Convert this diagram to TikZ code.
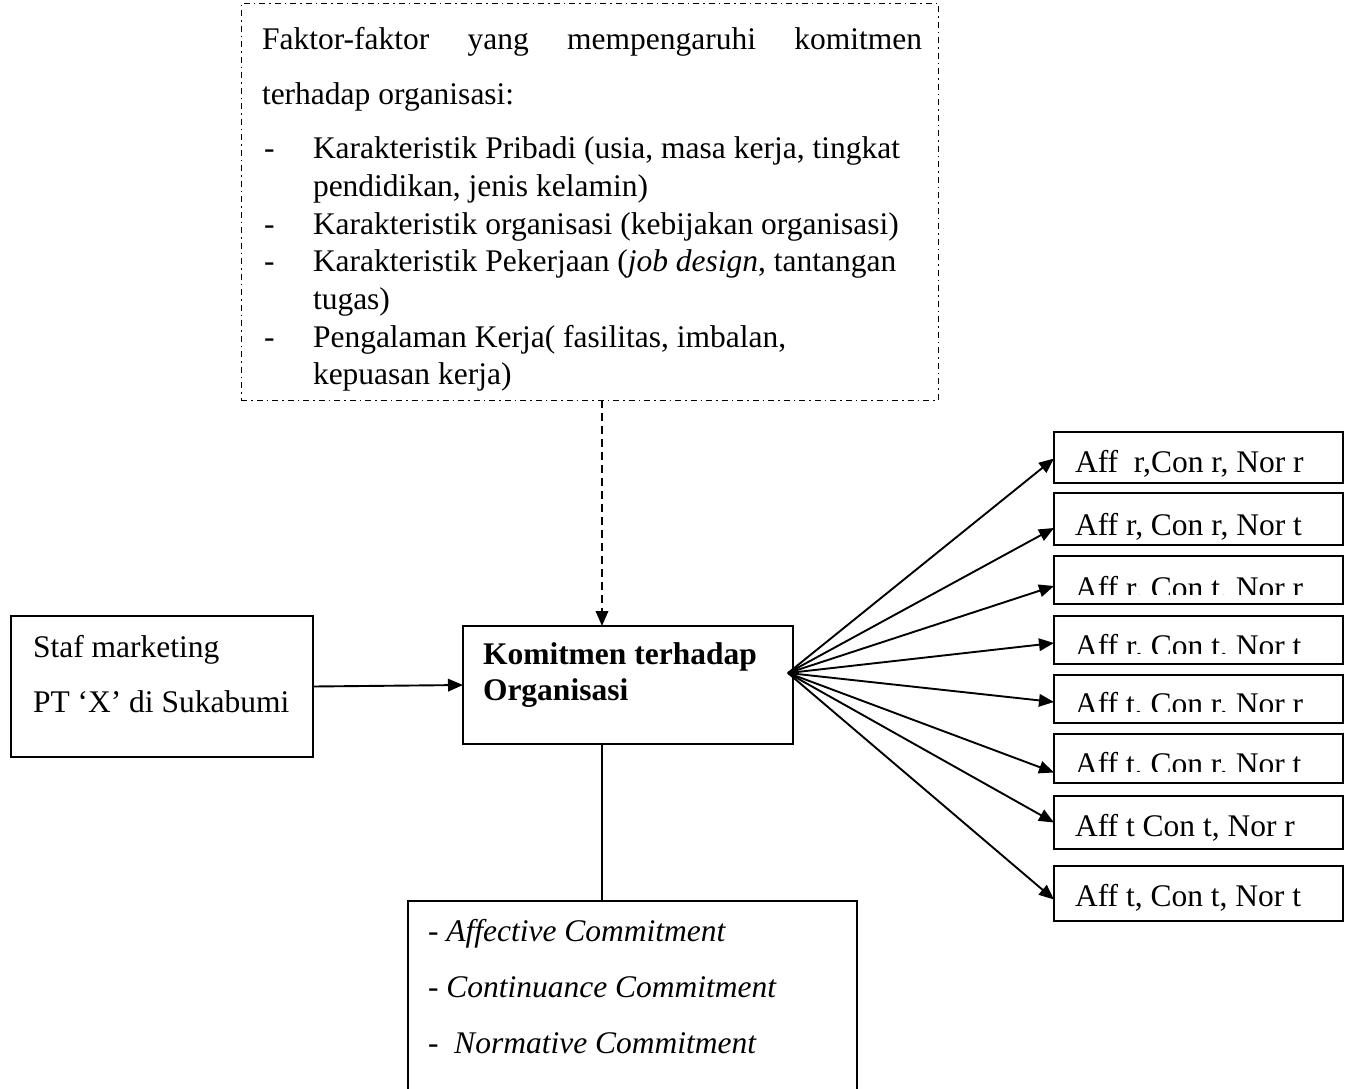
\documentclass[tikz,border=0pt]{standalone}
\usepackage{fontspec}
\setmainfont{Liberation Serif}
\usetikzlibrary{arrows.meta,calc}
\begin{document}
\begin{tikzpicture}[x=1pt,y=-1pt,
  every node/.style={font=\fontsize{31.5}{38}\selectfont, inner sep=0pt, outer sep=0pt},
  box/.style={draw, line width=1.8pt, anchor=north west},
  rbox/.style={box, line width=2pt, minimum width=289pt},
  txt/.style={anchor=base west},
  arr/.style={line width=1.9pt, -{Triangle[length=15pt,width=12.5pt]}},
  dashdot/.style={draw, line width=1pt, dash pattern=on 6pt off 4pt on 1.5pt off 4pt, anchor=north west}]
\useasboundingbox (0,0) rectangle (1350,1088);

% top factor box
\node[dashdot, minimum width=697pt, minimum height=397pt] (top) at (241,3) {};
\node[txt] (f1) at (262,49) {\hbox to 660pt{Faktor-faktor\hfill yang\hfill mempengaruhi\hfill komitmen}};
\node[txt] (f2) at (262,104) {terhadap organisasi:};
\node[txt] (d1) at (264,158) {-};
\node[txt] (f3) at (313,158) {Karakteristik Pribadi (usia, masa kerja, tingkat};
\node[txt] (f4) at (313,196) {pendidikan, jenis kelamin)};
\node[txt] (d2) at (264,234) {-};
\node[txt] (f5) at (313,234) {Karakteristik organisasi (kebijakan organisasi)};
\node[txt] (d3) at (264,271) {-};
\node[txt] (f6) at (313,271) {Karakteristik Pekerjaan (\textit{job design}, tantangan};
\node[txt] (f7) at (313,309) {tugas)};
\node[txt] (d4) at (264,347) {-};
\node[txt] (f8) at (313,347) {Pengalaman Kerja( fasilitas, imbalan,};
\node[txt] (f9) at (313,384) {kepuasan kerja)};

% left box
\node[box, minimum width=302pt, minimum height=141pt] (staf) at (11,616) {};
\node[txt] (s1) at (33,657) {Staf marketing};
\node[txt] (s2) at (33,712) {PT ‘X’ di Sukabumi};

% central box
\node[box, minimum width=330pt, minimum height=118pt] (kom) at (463,626) {};
\node[txt] (k1) at (483,664) {\bfseries Komitmen terhadap};
\node[txt] (k2) at (483,700) {\bfseries Organisasi};

% bottom box
\node[box, minimum width=449pt, minimum height=200pt] (bot) at (408,901) {};
\node[txt] (b1) at (428,941) {- \textit{Affective Commitment}};
\node[txt] (b2) at (428,997) {- \textit{Continuance Commitment}};
\node[txt] (b3) at (428,1053) {-\ \ \textit{Normative Commitment}};

% right boxes
\node[rbox, minimum height=51pt] (r1) at (1054,432) {};
\node[rbox, minimum height=52pt] (r2) at (1054,493) {};
\node[rbox, minimum height=48pt] (r3) at (1054,556) {};
\node[rbox, minimum height=48pt] (r4) at (1054,616) {};
\node[rbox, minimum height=48pt] (r5) at (1054,675) {};
\node[rbox, minimum height=49pt] (r6) at (1054,734) {};
\node[rbox, minimum height=53pt] (r7) at (1054,796) {};
\node[rbox, minimum height=55pt] (r8) at (1054,866) {};

\node[txt] (r1t) at (1075,472) {Aff\ \ r,Con r, Nor r};
\node[txt] (r2t) at (1075,535) {Aff r, Con r, Nor t};
\begin{scope}
\clip (1054,556) rectangle (1343,594);
\node[txt] (r3t) at (1075,598) {Aff r, Con t, Nor r};
\end{scope}
\begin{scope}
\clip (1054,616) rectangle (1343,653);
\node[txt] (r4t) at (1075,656) {Aff r, Con t, Nor t};
\end{scope}
\begin{scope}
\clip (1054,675) rectangle (1343,711);
\node[txt] (r5t) at (1075,714) {Aff t, Con r, Nor r};
\end{scope}
\begin{scope}
\clip (1054,734) rectangle (1343,771);
\node[txt] (r6t) at (1075,774) {Aff t, Con r, Nor t};
\end{scope}
\node[txt] (r7t) at (1075,836) {Aff t Con t, Nor r};
\node[txt] (r8t) at (1075,906) {Aff t, Con t, Nor t};

% connectors
\coordinate (dcol) at (602,0);
\coordinate (fan) at (788,673);
\draw[arr, dash pattern=on 8pt off 5pt] (top.south -| dcol) -- (kom.north -| dcol);
\draw[arr] (staf.east) -- (kom.west);
\draw[line width=1.9pt] (kom.south -| dcol) -- (bot.north -| dcol);
\draw[arr] (fan) -- ($(r1.west)+(0,1)$);
\draw[arr] (fan) -- ($(r2.west)+(0,9)$);
\draw[arr] (fan) -- ($(r3.west)+(0,6)$);
\draw[arr] (fan) -- ($(r4.west)+(0,3)$);
\draw[arr] (fan) -- ($(r5.west)+(0,3)$);
\draw[arr] (fan) -- ($(r6.west)+(0,14)$);
\draw[arr] (fan) -- ($(r7.west)+(0,0)$);
\draw[arr] (fan) -- ($(r8.west)+(0,6)$);
\end{tikzpicture}
\end{document}
